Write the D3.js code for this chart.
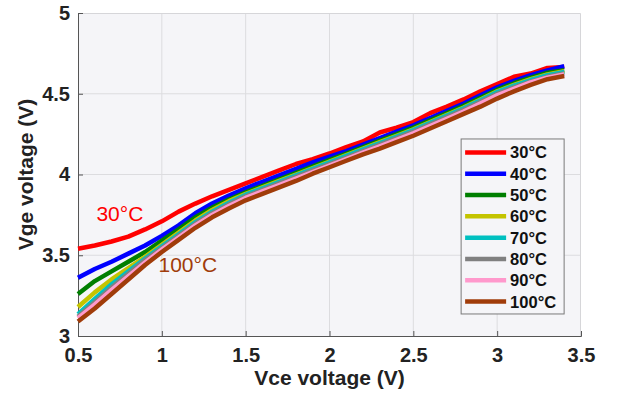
<!DOCTYPE html>
<html>
<head>
<meta charset="utf-8">
<script src="https://cdn.jsdelivr.net/npm/d3@7"></script>
<style>
  body { margin: 0; background: #fff; }
  text { font-family: "Liberation Sans", Arial, Helvetica, sans-serif; }
</style>
</head>
<body>
<div id="chart"></div>
<script>
// Data (Vce step 0.1 V)
const vce = [0.5,0.6,0.7,0.8,0.9,1.0,1.1,1.2,1.3,1.4,1.5,1.6,1.7,1.8,1.9,2.0,2.1,2.2,2.3,2.4,2.5,2.6,2.7,2.8,2.9,3.0,3.1,3.2,3.3,3.4];

const t30  = [3.54,3.56,3.585,3.615,3.66,3.71,3.77,3.82,3.865,3.905,3.945,3.985,4.025,4.065,4.095,4.13,4.17,4.205,4.26,4.29,4.325,4.38,4.42,4.465,4.515,4.56,4.605,4.625,4.66,4.665];
const t40  = [3.36,3.415,3.46,3.51,3.56,3.62,3.685,3.76,3.82,3.87,3.915,3.955,3.995,4.035,4.075,4.11,4.145,4.185,4.225,4.265,4.305,4.35,4.395,4.44,4.49,4.54,4.58,4.615,4.645,4.67];
const t50  = [3.26,3.34,3.40,3.46,3.52,3.59,3.66,3.735,3.795,3.845,3.89,3.93,3.97,4.01,4.05,4.09,4.13,4.17,4.21,4.25,4.29,4.335,4.38,4.425,4.475,4.525,4.565,4.60,4.63,4.645];
const t60  = [3.18,3.27,3.35,3.42,3.49,3.565,3.64,3.715,3.78,3.835,3.88,3.92,3.96,4.00,4.04,4.08,4.12,4.16,4.20,4.24,4.28,4.325,4.37,4.415,4.465,4.515,4.555,4.59,4.62,4.64];
const t70  = [3.135,3.23,3.32,3.40,3.48,3.555,3.63,3.705,3.77,3.825,3.875,3.915,3.955,3.995,4.035,4.075,4.115,4.155,4.195,4.235,4.275,4.32,4.365,4.41,4.46,4.51,4.55,4.585,4.615,4.635];
const t80  = [3.12,3.21,3.30,3.385,3.47,3.545,3.62,3.695,3.76,3.815,3.865,3.905,3.945,3.985,4.025,4.065,4.105,4.145,4.185,4.225,4.265,4.31,4.355,4.40,4.45,4.50,4.54,4.575,4.605,4.625];
const t90  = [3.11,3.195,3.285,3.37,3.455,3.535,3.61,3.685,3.75,3.805,3.855,3.895,3.935,3.975,4.015,4.055,4.095,4.135,4.175,4.215,4.255,4.30,4.345,4.39,4.44,4.49,4.53,4.57,4.60,4.62];
const t100 = [3.09,3.17,3.26,3.35,3.44,3.52,3.595,3.67,3.735,3.79,3.84,3.88,3.92,3.96,4.005,4.045,4.085,4.125,4.16,4.2,4.24,4.285,4.33,4.375,4.42,4.47,4.515,4.555,4.59,4.61];

const labels = ["30°C","40°C","50°C","60°C","70°C","80°C","90°C","100°C"];
const colors = ["#ff0000","#0000ff","#007f00","#c4c400","#00c0c0","#808080","#ff99cc","#a03c0a"];
const seriesVals = [t30,t40,t50,t60,t70,t80,t90,t100];

const xTicks = [0.5,1,1.5,2,2.5,3,3.5];
const yTicks = [3,3.5,4,4.5,5];

// Dimensions
const width = 617, height = 399,
    margin = {top: 13, right: 36, bottom: 63, left: 78};
const innerW = width - margin.left - margin.right;
const innerH = height - margin.top - margin.bottom;

const svg = d3.select("#chart")
  .append("svg")
  .attr("width", width)
  .attr("height", height);

const g = svg.append("g")
  .attr("transform", `translate(${margin.left},${margin.top})`);

// Scales
const x = d3.scaleLinear().domain([0.5, 3.5]).range([0, innerW]);
const y = d3.scaleLinear().domain([3, 5]).range([innerH, 0]);

// Plot background
g.append("rect")
  .attr("width", innerW)
  .attr("height", innerH)
  .attr("fill", "#f5f5f8");

// Grid
g.append("g").selectAll("line")
  .data(xTicks.slice(1, -1))
  .join("line")
  .attr("x1", d => x(d)).attr("x2", d => x(d))
  .attr("y1", 0).attr("y2", innerH)
  .attr("stroke", "#dcdcdf").attr("stroke-width", 1);

g.append("g").selectAll("line")
  .data(yTicks.slice(1, -1))
  .join("line")
  .attr("y1", d => y(d)).attr("y2", d => y(d))
  .attr("x1", 0).attr("x2", innerW)
  .attr("stroke", "#dcdcdf").attr("stroke-width", 1);

// Box top/right in light grey
g.append("path")
  .attr("d", `M0,0.5H${innerW - 0.5}V${innerH}`)
  .attr("fill", "none")
  .attr("stroke", "#d6d6d9");

// Axes (ticks pointing inward)
const xAxis = g.append("g")
  .attr("transform", `translate(0,${innerH})`)
  .call(d3.axisBottom(x).tickValues(xTicks).tickSize(-5).tickPadding(11).tickFormat(d3.format("")));

const yAxis = g.append("g")
  .call(d3.axisLeft(y).tickValues(yTicks).tickSize(-5).tickPadding(8).tickFormat(d3.format("")));

[xAxis, yAxis].forEach(a => {
  a.select(".domain").attr("stroke", "#555");
  a.selectAll(".tick line").attr("stroke", "#555");
  a.selectAll(".tick text")
    .attr("fill", "#222")
    .style("font-size", "20px")
    .style("font-weight", "bold")
    .style("font-family", "'Liberation Sans', Arial, sans-serif");
});
xAxis.selectAll(".tick text").attr("dy", "0.75em");

// Lines
const lineGen = d3.line()
  .x(d => x(d[0]))
  .y(d => y(d[1]));

seriesVals.forEach((vals, i) => {
  g.append("path")
    .datum(vce.map((v, j) => [v, vals[j]]))
    .attr("fill", "none")
    .attr("stroke", colors[i])
    .attr("stroke-width", 4.5)
    .attr("stroke-linejoin", "round")
    .attr("d", lineGen);
});

// In-plot annotations
g.append("text")
  .attr("x", x(0.61)).attr("y", y(3.71))
  .attr("fill", "#ff0000")
  .style("font-size", "21px")
  .text("30°C");

g.append("text")
  .attr("x", x(0.98)).attr("y", y(3.395))
  .attr("fill", "#a03c0a")
  .style("font-size", "21px")
  .text("100°C");

// Legend
const legend = g.append("g")
  .attr("transform", `translate(${x(2.785)},${y(4.22)})`);

legend.append("rect")
  .attr("x", 0).attr("y", 0)
  .attr("width", 103).attr("height", 175)
  .attr("fill", "#f5f5f8")
  .attr("stroke", "#7a7a7a");

labels.forEach((lab, i) => {
  const ly = 13.5 + i * 21.3;
  legend.append("line")
    .attr("x1", 4).attr("x2", 45)
    .attr("y1", ly).attr("y2", ly)
    .attr("stroke", colors[i])
    .attr("stroke-width", 4.5);
  legend.append("text")
    .attr("x", 49).attr("y", ly)
    .attr("dy", "0.36em")
    .attr("fill", "#111")
    .style("font-size", "16.5px")
    .style("font-weight", "bold")
    .text(lab);
});

// Axis labels
g.append("text")
  .attr("x", innerW / 2)
  .attr("y", innerH + 49)
  .attr("text-anchor", "middle")
  .attr("fill", "#222")
  .style("font-size", "21px")
  .style("font-weight", "bold")
  .text("Vce voltage (V)");

g.append("text")
  .attr("transform", "rotate(-90)")
  .attr("x", -(innerH / 2) + 0)
  .attr("y", -margin.left + 33)
  .attr("text-anchor", "middle")
  .attr("fill", "#222")
  .style("font-size", "21px")
  .style("font-weight", "bold")
  .text("Vge voltage (V)");
</script>
</body>
</html>
